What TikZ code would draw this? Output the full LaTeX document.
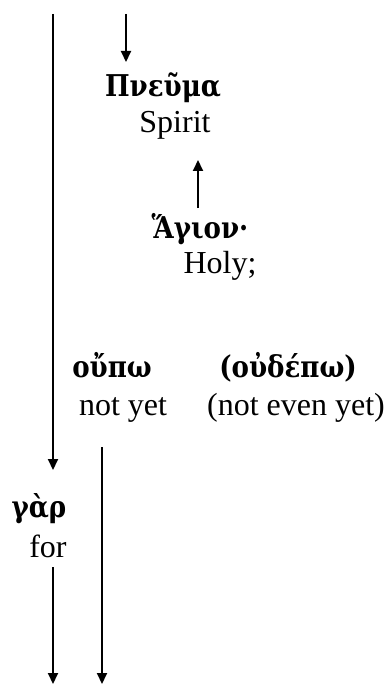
\documentclass[tikz,border=0pt]{standalone}
\usepackage{fontspec}
\setmainfont{Liberation Serif}
\newfontfamily\grk[FakeStretch=0.87]{DejaVu Serif}
\usetikzlibrary{arrows.meta}
\tikzset{
  txt/.style={anchor=base, inner sep=0pt, font=\fontsize{16}{19}\selectfont},
  gk/.style={anchor=base, inner sep=0pt, font=\fontsize{15}{19}\selectfont\grk\bfseries},
  conn/.style={line width=1pt, -{Triangle[length=5.5pt,width=5pt]}},
  plain/.style={line width=1pt}
}
\begin{document}
\begin{tikzpicture}[x=0.5pt,y=-0.5pt]
\useasboundingbox (0,0) rectangle (391,684);
% text nodes
\node[gk] (pneuma) at (163,97) {Πνεῦμα};
\node[txt] (spirit) at (175,133) {Spirit};
\node[gk] (hagion) at (200,238) {Ἅγιον·};
\node[txt] (holy) at (220,273) {Holy;};
\node[gk] (oupo) at (112,377) {οὔπω};
\node[txt] (notyet) at (123,415) {not yet};
\node[gk] (oudepo) at (288,377) {(οὐδέπω)};
\node[txt] (noteven) at (296,415) {(not even yet)};
\node[gk] (gar) at (39,517) {γὰρ};
\node[txt] (for) at (48,557) {for};
% connector end points
\coordinate (topA) at (126,14);
\coordinate (topAend) at (126,62);
\coordinate (upS) at (198,208);
\coordinate (upE) at (198,160);
\coordinate (leftS) at (53,14);
\coordinate (leftE) at (53,470);
\coordinate (left2S) at (53,567);
\coordinate (left2E) at (53,684);
\coordinate (midS) at (102,447);
\coordinate (midE) at (102,684);
% connectors
\draw[conn] (topA) -- (topAend);
\draw[conn] (upS) -- (upE);
\draw[conn] (leftS) -- (leftE);
\draw[conn] (left2S) -- (left2E);
\draw[conn] (midS) -- (midE);
\end{tikzpicture}
\end{document}
